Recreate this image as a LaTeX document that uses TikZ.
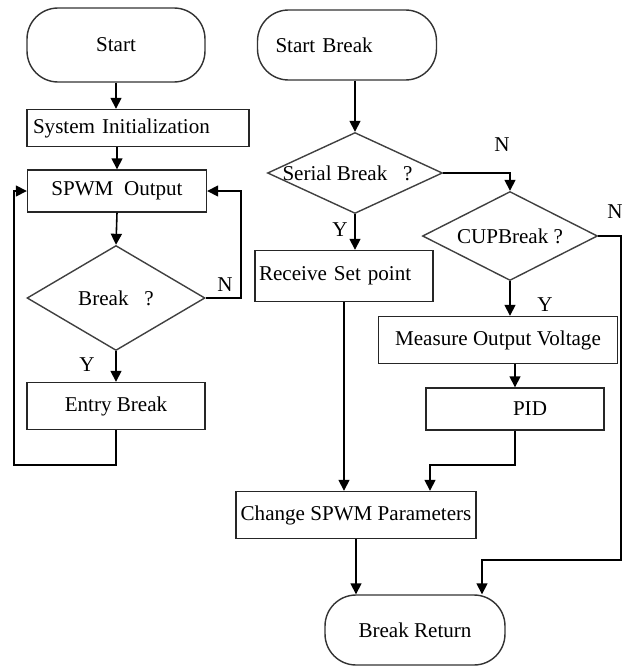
\documentclass[tikz,border=0pt]{standalone}
\usepackage{fontspec}
\setmainfont{Liberation Serif}
\usetikzlibrary{arrows.meta, positioning, shapes.geometric}
\newcommand{\dlabel}[1]{\makebox[0pt]{#1}}
\tikzset{
	term/.style={rectangle, rounded corners=0.62cm, draw=black!80, line width=0.8pt, align=center, minimum width=3.58cm, minimum height=1.4cm, font=\fontsize{12}{14}\selectfont},
	proc/.style={rectangle, draw=black!85, line width=0.8pt, align=center, minimum width=3.56cm, minimum height=0.94cm, inner sep=2pt, font=\fontsize{12}{14}\selectfont},
	decide/.style={diamond, draw=black!75, line width=0.8pt, inner sep=0pt, minimum width=3.5cm, minimum height=1.7cm, font=\fontsize{12}{14}\selectfont},
	yn/.style={font=\fontsize{12}{14}\selectfont, inner sep=1pt},
	arrow/.style={-{Triangle[length=2.2mm, width=2.2mm]}, line width=0.9pt},
}
\begin{document}
\begin{tikzpicture}[x=0.02cm, y=-0.02cm]
	\useasboundingbox (0,0) rectangle (626,666);
	% main loop
	\node[term, minimum height=1.48cm, minimum width=3.56cm] (start) at (116,45) {\raisebox{-0.2cm}{Start}};
	\node[proc, minimum width=4.44cm, minimum height=0.74cm, text width=4.2cm, align=left] (sysinit) at (138,128) {System Initialization};
	\node[proc, minimum width=3.58cm, minimum height=0.84cm] (spwm) at (117,191) {SPWM~~Output};
	\node[decide, minimum width=3.56cm, minimum height=2.1cm] (brk) at (116,298) {\dlabel{Break~~~?}};
	\node[proc] (entry) at (116,406) {Entry Break};
	\node[yn] (brkn) at (225,285) {N};
	\node[yn] (brky) at (87,365) {Y};
	\coordinate (loopr) at (241,298);
	\coordinate (loopl) at (14,465);
	% interrupt routine
	\node[term, text width=2.86cm, inner xsep=0.36cm, align=left] (startb) at (347,45) {Start Break};
	\node[decide, minimum height=1.62cm] (serial) at (355,173) {\dlabel{\hspace{-0.3cm}Serial Break~~~?}};
	\node[decide, minimum height=1.78cm] (cup) at (510,236) {\dlabel{CUPBreak ?}};
	\node[proc, minimum height=1.02cm, text width=3.4cm, align=left] (recv) at (344,276) {Receive Set point};
	\node[proc, minimum width=4.78cm] (measure) at (498,340) {Measure Output Voltage};
	\node[proc, minimum height=0.84cm] (pid) at (515,409) {\hspace{0.6cm}PID};
	\node[proc, minimum width=4.8cm] (change) at (356,515) {Change SPWM Parameters};
	\node[term, minimum width=3.6cm] (ret) at (415,630) {Break Return};
	\node[yn] (serialn) at (502,145) {N};
	\node[yn] (serialy) at (340,230) {Y};
	\node[yn] (cupn) at (615,212) {N};
	\node[yn] (cupy) at (545,305) {Y};
	\coordinate (pidj) at (430,465);
	\coordinate (retj) at (482,560);

	\draw[arrow] (start.south) -- (start.south |- sysinit.north);
	\draw[arrow] (spwm.north |- sysinit.south) -- (spwm.north);
	\draw[arrow] (spwm.south) -- (brk.north);
	\draw[arrow] (brk.east) -- (loopr) |- (spwm.east);
	\draw[arrow] (brk.south) -- (entry.north);
	\draw[arrow] (entry.south) |- (loopl) |- (spwm.west);

	\draw[arrow] (serial.north |- startb.south) -- (serial.north);
	\draw[arrow] (serial.east) -| (cup.north);
	\draw[arrow] (serial.south) -- (serial.south |- recv.north);
	\draw[arrow] (recv.south) -- (recv.south |- change.north);
	\draw[arrow] (cup.south) -- (cup.south |- measure.north);
	\draw[arrow] (pid.north |- measure.south) -- (pid.north);
	\draw[arrow] (pid.south) |- (pidj) -- (pidj |- change.north);
	\draw[arrow] (cup.east) -- ++(23,0) |- (retj) -- (retj |- ret.north);
	\draw[arrow] (change.south) -- (change.south |- ret.north);
\end{tikzpicture}
\end{document}
